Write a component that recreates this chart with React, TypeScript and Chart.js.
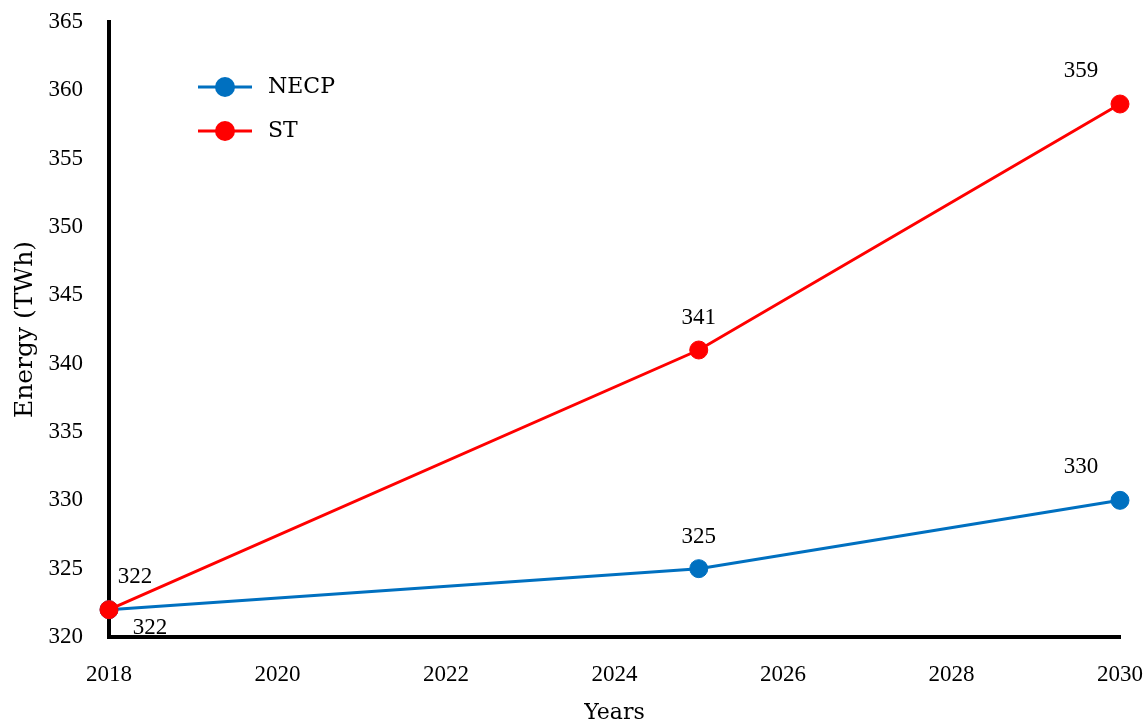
import React, { useEffect, useRef } from "react";
import { Chart, registerables } from "chart.js";

Chart.register(...registerables);

const years = [2018, 2025, 2030];
const necpValues = [322, 325, 330];
const stValues = [322, 341, 359];
const seriesNames = ["NECP", "ST"];
const seriesColors = ["#0070C0", "#FF0000"];
const xTitle = "Years";
const yTitle = "Energy (TWh)";

const NUM_FONT = "'Liberation Serif', 'Times New Roman', serif";
const TXT_FONT = "'DejaVu Serif', serif";
const FS = 23;

// label offsets (text centre relative to point), per series
const labelOffsets = [
  [[41, 18], [0, -32], [-39, -33]],
  [[26, -33], [0, -32], [-39, -33]],
];

const labelPlugin = {
  id: "valueLabels",
  afterDatasetsDraw(chart: any) {
    const ctx = chart.ctx;
    ctx.save();
    ctx.font = `${FS}px ${NUM_FONT}`;
    ctx.fillStyle = "#000";
    ctx.textAlign = "center";
    ctx.textBaseline = "middle";
    chart.data.datasets.forEach((ds: any, di: number) => {
      const meta = chart.getDatasetMeta(di);
      meta.data.forEach((pt: any, i: number) => {
        const off = labelOffsets[di][i];
        ctx.fillText(String(ds.data[i].y), pt.x + off[0], pt.y + off[1]);
      });
    });
    ctx.restore();
  },
};

const legendPlugin = {
  id: "customLegend",
  afterDraw(chart: any) {
    const ctx = chart.ctx;
    const ca = chart.chartArea;
    ctx.save();
    chart.data.datasets.forEach((ds: any, di: number) => {
      const y = ca.top + 65 + di * 44;
      const x0 = ca.left + 89;
      ctx.strokeStyle = ds.borderColor;
      ctx.lineWidth = 3;
      ctx.beginPath();
      ctx.moveTo(x0, y);
      ctx.lineTo(x0 + 54, y);
      ctx.stroke();
      ctx.fillStyle = ds.borderColor;
      ctx.beginPath();
      ctx.arc(x0 + 27, y, 10, 0, Math.PI * 2);
      ctx.fill();
      ctx.fillStyle = "#000";
      ctx.font = `22px ${TXT_FONT}`;
      ctx.textAlign = "left";
      ctx.textBaseline = "middle";
      ctx.fillText(ds.label, x0 + 70, y);
    });
    ctx.restore();
  },
};

const zeroPad = (s: any) => {
  s.paddingTop = 0;
  s.paddingBottom = 0;
  s.paddingLeft = 0;
  s.paddingRight = 0;
};

export default function App() {
  const ref = useRef<HTMLCanvasElement>(null);
  useEffect(() => {
    if (!ref.current) return;
    const mk = (vals: number[], idx: number, order: number) => ({
      label: seriesNames[idx],
      data: years.map((x, i) => ({ x, y: vals[i] })),
      borderColor: seriesColors[idx],
      backgroundColor: seriesColors[idx],
      pointBackgroundColor: seriesColors[idx],
      pointBorderColor: seriesColors[idx],
      borderWidth: 3,
      pointRadius: 9,
      pointBorderWidth: 1,
      clip: false as any,
      order,
    });
    const chart = new Chart(ref.current, {
      type: "line",
      data: {
        datasets: [mk(necpValues, 0, 1), mk(stValues, 1, 0)],
      },
      plugins: [labelPlugin, legendPlugin],
      options: {
        animation: false,
        responsive: false,
        layout: { padding: { left: 0, top: 22, right: 28, bottom: 0 } },
        plugins: { legend: { display: false }, tooltip: { enabled: false } },
        scales: {
          x: {
            type: "linear",
            min: 2018,
            max: 2030,
            ticks: {
              stepSize: 2,
              padding: 24,
              color: "#000",
              font: { family: NUM_FONT, size: FS },
              callback: (v: any) => String(v),
              maxRotation: 0,
            },
            grid: { display: false, drawTicks: false },
            border: { display: true, color: "#000", width: 4 },
            title: {
              display: true,
              text: xTitle,
              color: "#000",
              font: { family: TXT_FONT, size: 22 },
              padding: { top: 0, bottom: 0 },
            },
            afterFit: (s: any) => {
              s.height = 89;
              zeroPad(s);
            },
          },
          y: {
            min: 320,
            max: 365,
            ticks: {
              stepSize: 5,
              padding: 26,
              color: "#000",
              font: { family: NUM_FONT, size: FS },
            },
            grid: { display: false, drawTicks: false },
            border: { display: true, color: "#000", width: 4 },
            title: {
              display: true,
              text: yTitle,
              color: "#000",
              font: { family: TXT_FONT, size: 25 },
              padding: { top: 10, bottom: 0 },
            },
            afterFit: (s: any) => {
              s.width = 109;
              zeroPad(s);
            },
          },
        },
      },
    } as any);
    return () => chart.destroy();
  }, []);
  return (
    <div style={{ position: "fixed", left: 0, top: 0, width: 1148, height: 726, background: "#fff" }}>
      <canvas ref={ref} width={1148} height={726} style={{ display: "block" }} />
    </div>
  );
}
